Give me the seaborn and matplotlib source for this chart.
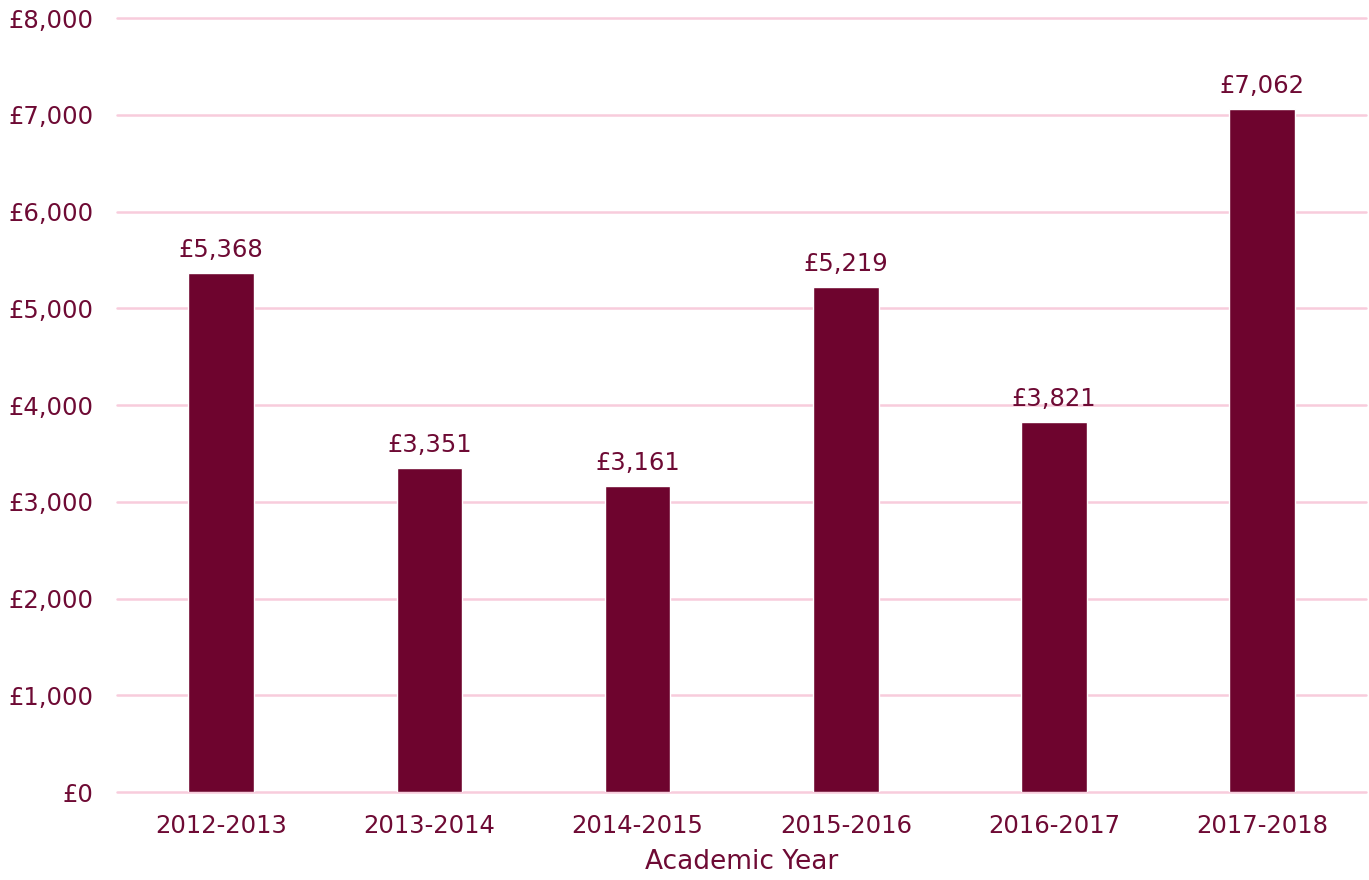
import matplotlib
matplotlib.use("Agg")
import matplotlib.pyplot as plt
import seaborn as sns
import pandas as pd
from matplotlib.ticker import FuncFormatter

# Dati
anni = ["2012-2013", "2013-2014", "2014-2015", "2015-2016", "2016-2017", "2017-2018"]
valori = [5368, 3351, 3161, 5219, 3821, 7062]

df = pd.DataFrame({"Anno": anni, "Valore": valori})

colore_barre = "#6E042E"
colore_testo = "#6E0A34"
colore_griglia = "#F8CCDC"

sns.set_theme(style="white")
plt.rcParams['font.family'] = ['DejaVu Sans']

fig = plt.figure(figsize=(13.69, 8.80), dpi=100)
ax = fig.add_axes([0.0855, 0.1, 0.9125, 0.8795])

sns.barplot(data=df, x="Anno", y="Valore", color=colore_barre, width=0.315,
            saturation=1, ax=ax, zorder=3)

ax.set_ylim(0, 8000)
ax.set_xlim(-0.5, 5.5)
ax.set_yticks(range(0, 8001, 1000))
ax.yaxis.set_major_formatter(FuncFormatter(lambda v, p: f"£{int(v):,}"))
ax.grid(axis="y", color=colore_griglia, linewidth=1.8, zorder=0)
ax.grid(axis="x", visible=False)
for lato in ["top", "right", "left", "bottom"]:
    ax.spines[lato].set_visible(False)
for linea in ax.get_ygridlines():
    linea.set_clip_on(False)

ax.tick_params(axis="both", length=0, labelsize=17.5, colors=colore_testo)
ax.tick_params(axis="y", pad=17)
ax.tick_params(axis="x", pad=16)
ax.set_xlabel("Academic Year", fontsize=19, color=colore_testo, labelpad=8)
ax.set_ylabel("")

for i, v in enumerate(valori):
    ax.annotate(f"£{v:,}", (i, v), xytext=(0, 8), textcoords="offset points",
                ha="center", va="bottom", fontsize=17.5, color=colore_testo)

fig.savefig("out.png", dpi=100)
